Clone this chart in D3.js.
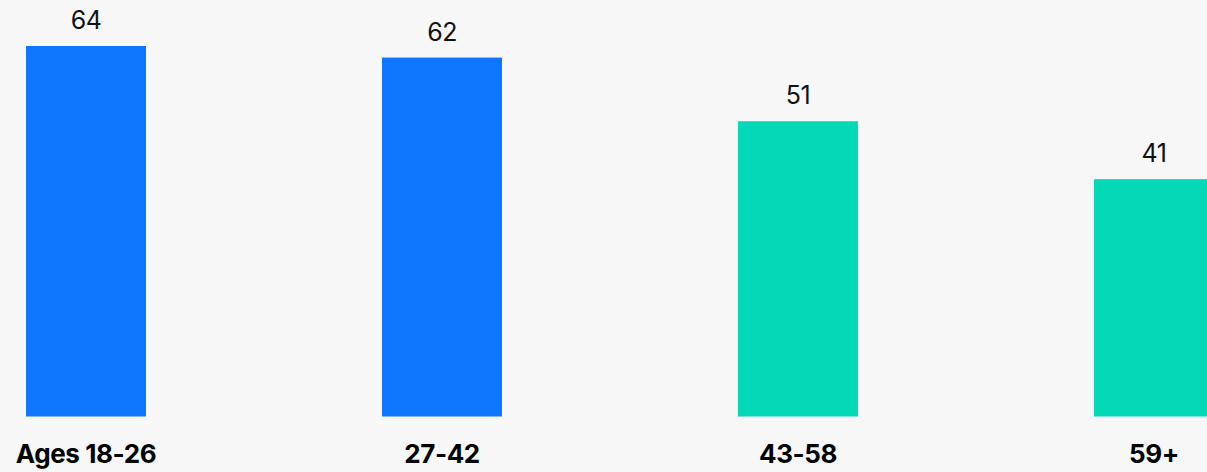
<!DOCTYPE html>
<html><head><meta charset="utf-8">
<script src="https://cdn.jsdelivr.net/npm/d3@7/dist/d3.min.js"></script>
<style>
html,body{margin:0;padding:0;background:#f7f7f7;overflow:hidden;}
svg{display:block;}
</style></head>
<body>
<script>
const categories = ["Ages 18-26", "27-42", "43-58", "59+"];
const values = [64, 62, 51, 41];
const colors = ["#0f76ff", "#0f76ff", "#03d9b6", "#03d9b6"];

const W = 1207, H = 472;
const svg = d3.select("body").append("svg").attr("width", W).attr("height", H);
svg.append("rect").attr("width", W).attr("height", H).attr("fill", "#f7f7f7");

const x = d3.scaleBand().domain(categories).range([26, 1214]).paddingInner(236/356).paddingOuter(0);
const y = d3.scaleLinear().domain([0, 64]).range([416.5, 46]);

svg.selectAll("rect.bar").data(categories).join("rect")
  .attr("class", "bar")
  .attr("x", d => x(d))
  .attr("width", x.bandwidth())
  .attr("y", (d, i) => y(values[i]))
  .attr("height", (d, i) => y(0) - y(values[i]))
  .attr("fill", (d, i) => colors[i]);

svg.selectAll("text.val").data(categories).join("text")
  .attr("class", "val")
  .attr("x", d => x(d) + x.bandwidth() / 2)
  .attr("y", (d, i) => y(values[i]) - 17)
  .attr("text-anchor", "middle")
  .attr("font-family", "Inter, sans-serif")
  .attr("font-size", 25)
  .attr("letter-spacing", "-0.5px")
  .attr("fill", "#111")
  .text((d, i) => values[i]);

const axis = d3.axisBottom(x).tickSize(0).tickPadding(0);
const g = svg.append("g").attr("transform", "translate(0,445)").call(axis);
g.select(".domain").remove();
g.selectAll("text")
  .attr("font-family", "Inter, sans-serif")
  .attr("font-size", 26)
  .attr("font-weight", 700)
  .attr("letter-spacing", "-0.4px")
  .attr("fill", "#000")
  .attr("dy", "0.71em");
</script>
</body></html>
